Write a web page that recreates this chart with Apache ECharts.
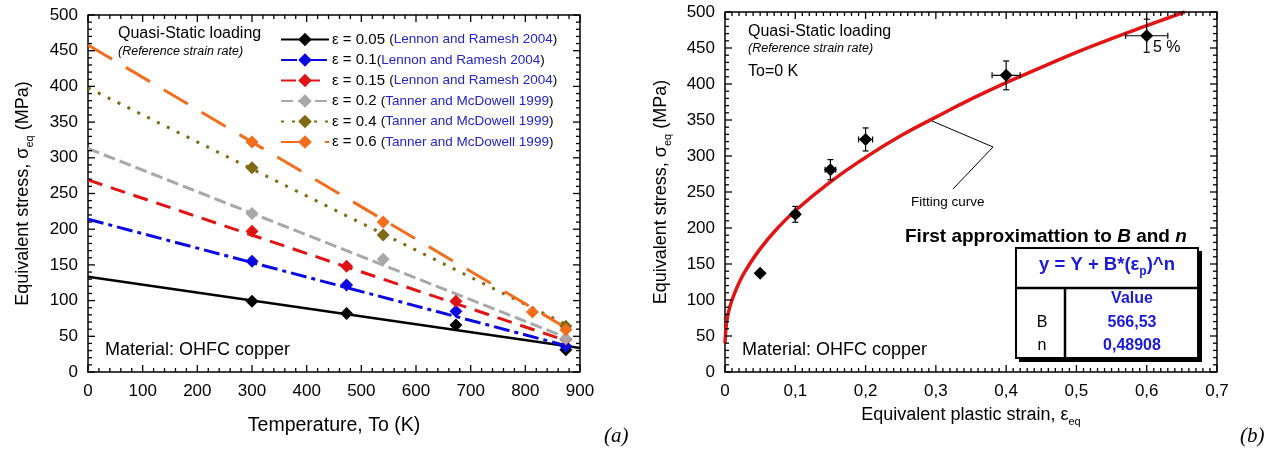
<!DOCTYPE html>
<html><head><meta charset="utf-8">
<script src="https://cdn.jsdelivr.net/npm/echarts@6/dist/echarts.min.js"></script>
<style>html,body{margin:0;padding:0;background:#fff}#c{width:1272px;height:454px}</style>
</head><body><div id="c"></div>
<script>
// ---------- DATA (left chart) ----------
const epsNames = ['ε = 0.05', 'ε = 0.1', 'ε = 0.15', 'ε = 0.2', 'ε = 0.4', 'ε = 0.6'];
const epsSources = ['Lennon and Ramesh 2004', 'Lennon and Ramesh 2004', 'Lennon and Ramesh 2004',
  'Tanner and McDowell 1999', 'Tanner and McDowell 1999', 'Tanner and McDowell 1999'];
const epsColors = ['#000000', '#0a0ae0', '#e01414', '#a8a8a8', '#7f6a12', '#f26d1c'];
const epsDash = ['solid', [16, 5, 4, 5], [15, 9], [12, 5], [3, 8], [28, 16]];
// fitted straight lines: start (T=0) and end values
const fitStartT = [0, 0, 0, 0, 0, 0];
const fitStartV = [133.5, 214, 269, 313, 398, 458];
const fitEndT = [900, 874, 874, 876, 876, 874];
const fitEndV = [33.6, 37, 44, 48, 66, 62];
// measured points
const ptsT = [
  [300, 473, 673, 874],
  [300, 473, 673, 874],
  [300, 473, 673, 874],
  [300, 540, 874],
  [300, 540, 874],
  [300, 540, 813, 874]
];
const ptsV = [
  [99, 82, 66, 31],
  [155, 122, 85, 36],
  [197, 148, 99, 46],
  [222, 158, 47],
  [286, 192, 64],
  [322, 210, 84, 59]
];
// axis ticks (left chart)
const tempTicks = [0, 100, 200, 300, 400, 500, 600, 700, 800, 900];
const tempMinorStep = 20;
const stressTicks = [0, 50, 100, 150, 200, 250, 300, 350, 400, 450, 500];
const stressMinorStep = 10;

// ---------- DATA (right chart) ----------
const strainX = [0.05, 0.1, 0.15, 0.2, 0.4, 0.6];
const stressY = [137, 219, 281, 323, 412, 467];
const errY = [0, 11, 14, 16, 20, 23];
const errX = [0, 0.005, 0.0075, 0.01, 0.02, 0.03];
// fitting curve
const curveX = [0, 0.002, 0.005, 0.01, 0.02, 0.03, 0.05, 0.075, 0.1, 0.15, 0.2, 0.25, 0.3, 0.35, 0.4, 0.45, 0.5, 0.55, 0.6, 0.654];
const curveY = [40, 67, 83, 100, 124, 142, 171, 200, 224, 264, 298, 328, 354, 379, 402, 423, 444, 463, 481, 500];
const fitParams = ['566,53', '0,48908'];
const strainTicks = [0, 0.1, 0.2, 0.3, 0.4, 0.5, 0.6, 0.7];
const strainMinorStep = 0.01;

const FONT = 'Liberation Sans, Arial, sans-serif';
const chart = echarts.init(document.getElementById('c'), null, {renderer: 'canvas'});

function xAx(grid, min, max, interval, fmt, name, nameGap, nameSize) {
  return {
    type: 'value', gridIndex: grid, min, max, interval, position: 'bottom',
    axisLine: {show: true, onZero: false, lineStyle: {color: '#000', width: 1.5}},
    axisTick: {show: false}, minorTick: {show: false},
    splitLine: {show: false},
    axisLabel: {show: true, color: '#000', fontSize: 17, fontFamily: FONT, margin: 11, formatter: fmt},
    name: name, nameLocation: 'middle', nameGap: nameGap,
    nameTextStyle: {color: '#000', fontSize: nameSize, fontFamily: FONT,
      rich: {sub: {fontSize: 11, fontFamily: FONT, color: '#000', padding: [13, 0, 0, 0]}}}
  };
}
function yAx(grid, name, nameGap) {
  const a = xAx(grid, 0, 500, 50, null, name, nameGap, 18);
  a.position = 'left';
  a.axisLabel.margin = 10;
  return a;
}

const commaFmt = v => (Math.round(v * 10) / 10).toString().replace('.', ',');

function tickValues(maj, step) {
  const out = [];
  const a = maj[0], b = maj[maj.length - 1];
  const n = Math.round((b - a) / step);
  for (let k = 0; k <= n; k++) {
    const v = a + k * step;
    out.push([v, maj.some(m => Math.abs(m - v) < step / 10)]);
  }
  return out;
}

// tick marks on all four sides of a grid, placed through the axis scales
function tickSeries(xi, yi, xMaj, xMinStep, yMaj, yMinStep) {
  return {
    type: 'custom', xAxisIndex: xi, yAxisIndex: yi, z: 20, zlevel: 0, silent: true, animation: false, clip: false,
    data: [[xMaj[0], yMaj[0]]],
    renderItem: function (params, api) {
      const ch = [];
      const x0 = xMaj[0], x1 = xMaj[xMaj.length - 1], y0 = yMaj[0], y1 = yMaj[yMaj.length - 1];
      const mk = (ax, ay, bx, by) => ({type: 'line', shape: {x1: ax, y1: ay, x2: bx, y2: by},
        style: {stroke: '#000', lineWidth: 1.3, fill: null}});
      tickValues(xMaj, xMinStep).forEach(([v, maj]) => {
        const L = maj ? 7 : 4;
        const b = api.coord([v, y0]), t = api.coord([v, y1]);
        ch.push(mk(b[0], b[1], b[0], b[1] - L));
        ch.push(mk(t[0], t[1], t[0], t[1] + L));
      });
      tickValues(yMaj, yMinStep).forEach(([v, maj]) => {
        const L = maj ? 7 : 4;
        const l = api.coord([x0, v]), r = api.coord([x1, v]);
        ch.push(mk(l[0], l[1], l[0] + L, l[1]));
        ch.push(mk(r[0], r[1], r[0] - L, r[1]));
      });
      return {type: 'group', children: ch};
    }
  };
}

const series = [];
// tick series first (drawn on top by z)
series.push(tickSeries(0, 0, tempTicks, tempMinorStep, stressTicks, stressMinorStep));
series.push(tickSeries(1, 1, strainTicks, strainMinorStep, stressTicks, stressMinorStep));
// left fitted lines (legend entries)
for (let i = 0; i < 6; i++) {
  series.push({
    name: epsNames[i], type: 'line', xAxisIndex: 0, yAxisIndex: 0,
    data: [[fitStartT[i], fitStartV[i]], [fitEndT[i], fitEndV[i]]],
    symbol: 'diamond', symbolSize: 13, showSymbol: false,
    lineStyle: {color: epsColors[i], width: i === 0 ? 2.5 : 3, type: epsDash[i]},
    itemStyle: {color: epsColors[i], opacity: 1},
    z: 2, silent: true, animation: false
  });
}
// left points
for (let i = 0; i < 6; i++) {
  series.push({
    type: 'scatter', xAxisIndex: 0, yAxisIndex: 0,
    data: ptsT[i].map((t, k) => [t, ptsV[i][k]]),
    symbol: 'diamond', symbolSize: 13,
    itemStyle: {color: epsColors[i], opacity: 1}, z: 3, animation: false
  });
}
// right: curve
series.push({
  type: 'line', xAxisIndex: 1, yAxisIndex: 1, smooth: true, showSymbol: false, symbol: 'none',
  data: curveX.map((x, k) => [x, curveY[k]]),
  lineStyle: {color: '#e31414', width: 3.5}, z: 2, animation: false
});
// right: error bars
series.push({
  type: 'custom', xAxisIndex: 1, yAxisIndex: 1, z: 3, animation: false,
  data: strainX.map((x, k) => [x, stressY[k], errX[k], errY[k]]),
  renderItem: function (params, api) {
    const x = api.value(0), y = api.value(1), ex = api.value(2), ey = api.value(3);
    const ch = [];
    const mk = (ax, ay, bx, by) => ({type: 'line', shape: {x1: ax, y1: ay, x2: bx, y2: by}, style: {stroke: '#000', lineWidth: 1.2}});
    if (ey > 0) {
      const t = api.coord([x, y + ey]), b = api.coord([x, y - ey]);
      ch.push(mk(t[0], t[1], b[0], b[1]));
      ch.push(mk(t[0] - 3, t[1], t[0] + 3, t[1]));
      ch.push(mk(b[0] - 3, b[1], b[0] + 3, b[1]));
    }
    if (ex > 0) {
      const l = api.coord([x - ex, y]), r = api.coord([x + ex, y]);
      ch.push(mk(l[0], l[1], r[0], r[1]));
      ch.push(mk(l[0], l[1] - 3, l[0], l[1] + 3));
      ch.push(mk(r[0], r[1] - 3, r[0], r[1] + 3));
    }
    return {type: 'group', children: ch};
  }
});
series.push({
  type: 'scatter', xAxisIndex: 1, yAxisIndex: 1, z: 4, animation: false,
  data: strainX.map((x, k) => [x, stressY[k]]),
  symbol: 'diamond', symbolSize: 13, itemStyle: {color: '#000', opacity: 1}
});

const txt = (text, x, y, font, opts) => Object.assign({
  type: 'text', z: 10,
  style: Object.assign({text, x, y, font, fill: '#000', textVerticalAlign: 'middle'}, opts || {})
});

const graphics = [
  // left annotations
  txt('Quasi-Static loading', 118, 34, '16px ' + FONT),
  txt('(Reference strain rate)', 118, 52, 'italic 12.5px ' + FONT),
  txt('Material: OHFC copper', 105, 350, '18px ' + FONT),
  // right annotations
  txt('Quasi-Static loading', 748, 32, '16px ' + FONT),
  txt('(Reference strain rate)', 748, 49, 'italic 12.5px ' + FONT),
  txt('To=0 K', 748, 72, '16px ' + FONT),
  txt('Material: OHFC copper', 742, 350, '18px ' + FONT),
  txt('Fitting curve', 911, 202, '13.5px ' + FONT),
  txt('5 %', 1153, 48, '16px ' + FONT),
  {type: 'polyline', z: 10, shape: {points: [[932, 121], [993, 147], [953, 189]]}, style: {stroke: '#000', lineWidth: 1, fill: null}},
  // table
  {type: 'text', z: 10, style: {
    text: '{b|First approximattion to }{bi|B}{b| and }{bi|n}', x: 905, y: 237, textVerticalAlign: 'middle',
    rich: {b: {font: 'bold 19px ' + FONT, fill: '#000'}, bi: {font: 'italic bold 19px ' + FONT, fill: '#000'}}}},
  {type: 'rect', z: 9, shape: {x: 1019, y: 251, width: 183, height: 111}, style: {fill: '#000'}},
  {type: 'rect', z: 10, shape: {x: 1016, y: 248, width: 182, height: 110}, style: {fill: '#fff', stroke: '#000', lineWidth: 2}},
  {type: 'line', z: 11, shape: {x1: 1016, y1: 288, x2: 1198, y2: 288}, style: {stroke: '#000', lineWidth: 2.5}},
  {type: 'line', z: 11, shape: {x1: 1065, y1: 288, x2: 1065, y2: 358}, style: {stroke: '#000', lineWidth: 2.5}},
  {type: 'text', z: 12, style: {
    text: '{h|y = Y + B*(ε}{s|p}{h|)^n}', x: 1107, y: 265, textAlign: 'center', textVerticalAlign: 'middle',
    rich: {h: {font: 'bold 18.5px ' + FONT, fill: '#1a1ad8'}, s: {font: 'bold 12px ' + FONT, fill: '#1a1ad8', padding: [13, 0, 0, 0]}}}},
  txt('Value', 1132, 299, 'bold 16px ' + FONT, {fill: '#1a1ad8', textAlign: 'center'}),
  txt('B', 1042, 323, '16px ' + FONT, {textAlign: 'center'}),
  txt(fitParams[0], 1132, 323, 'bold 16px ' + FONT, {fill: '#1a1ad8', textAlign: 'center'}),
  txt('n', 1042, 346, '16px ' + FONT, {textAlign: 'center'}),
  txt(fitParams[1], 1132, 346, 'bold 16px ' + FONT, {fill: '#1a1ad8', textAlign: 'center'}),
  // panel labels
  txt('(a)', 604, 436, 'italic 21px Liberation Serif, Times New Roman, serif'),
  txt('(b)', 1240, 436, 'italic 21px Liberation Serif, Times New Roman, serif')
];

const option = {
  animation: false,
  backgroundColor: '#fff',
  grid: [
    {left: 88, top: 15, width: 492, height: 357},
    {left: 725, top: 12, width: 492, height: 360}
  ],
  xAxis: [
    xAx(0, 0, 900, 100, null, 'Temperature, To (K)', 44, 19.5),
    xAx(1, 0, 0.7, 0.1, commaFmt, 'Equivalent plastic strain, ε{sub|eq}', 31, 18)
  ],
  yAxis: [
    yAx(0, 'Equivalent stress, σ{sub|eq} (MPa)', 53),
    yAx(1, 'Equivalent stress, σ{sub|eq} (MPa)', 52)
  ],
  legend: {
    data: epsNames, orient: 'vertical', left: 275, top: 26,
    itemWidth: 48, itemHeight: 17, itemGap: 3.5,
    formatter: function (name) {
      const i = epsNames.indexOf(name);
      return name + (i === 1 ? '' : ' ') + '{p|(}{r|' + epsSources[i] + '}{p|)}';
    },
    textStyle: {color: '#000', fontSize: 15, lineHeight: 17, fontFamily: FONT, padding: [0, 0, 0, -2],
      rich: {p: {fontSize: 13.5, lineHeight: 17, color: '#000', fontFamily: FONT}, r: {fontSize: 13.5, lineHeight: 17, color: '#2323c8', fontFamily: FONT}}}
  },
  series: series,
  graphic: graphics
};
chart.setOption(option);

// frame on the top and right sides, placed through the axis scales
(function () {
  const extra = [];
  [[0, tempTicks, stressTicks], [1, strainTicks, stressTicks]].forEach(([gi, xt, yt]) => {
    const tl = chart.convertToPixel({gridIndex: gi}, [xt[0], yt[yt.length - 1]]);
    const tr = chart.convertToPixel({gridIndex: gi}, [xt[xt.length - 1], yt[yt.length - 1]]);
    const br = chart.convertToPixel({gridIndex: gi}, [xt[xt.length - 1], yt[0]]);
    extra.push({type: 'polyline', z: 5, shape: {points: [tl, tr, br]}, style: {stroke: '#000', lineWidth: 1.5, fill: null}});
  });
  chart.setOption({graphic: graphics.concat(extra)});
})();
</script></body></html>
